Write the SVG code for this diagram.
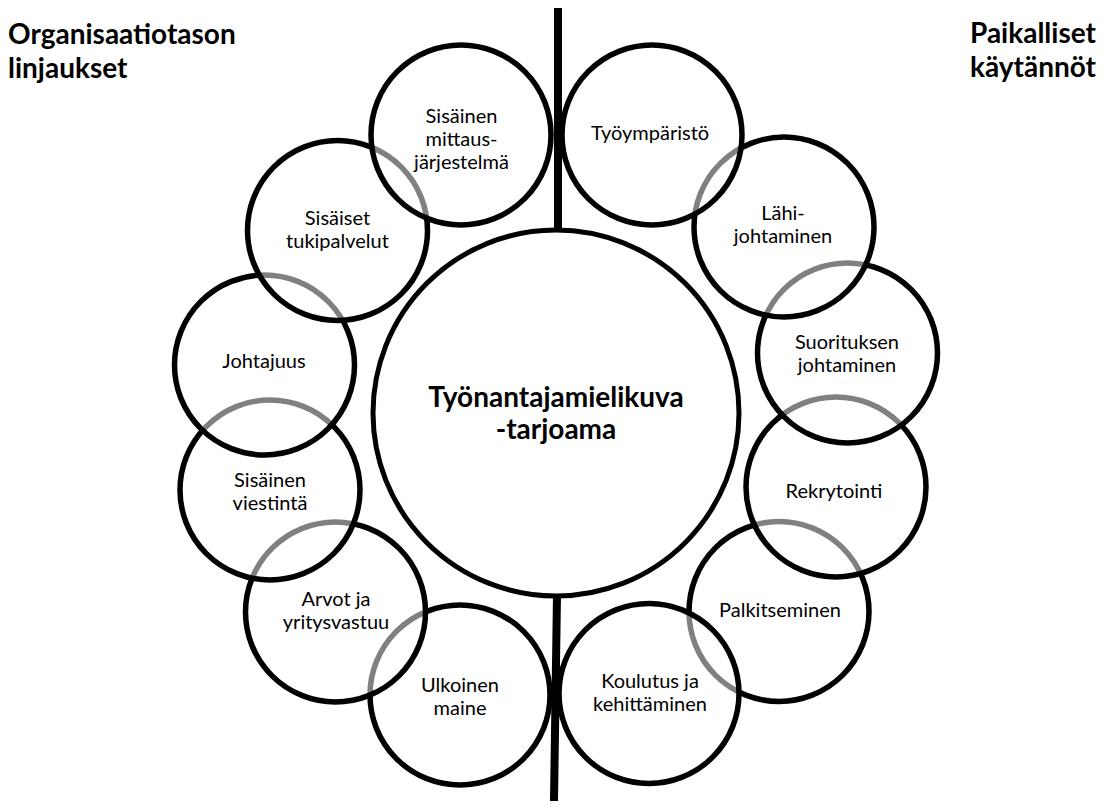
<svg xmlns="http://www.w3.org/2000/svg" width="1110" height="809" viewBox="0 0 1110 809">
  <style>
    .bubble { fill: #ffffff; fill-opacity: 0.5; stroke: #000000; stroke-width: 5.5; }
    .hub { fill: #ffffff; stroke: #000000; stroke-width: 5; }
    .label { font-family: Lato, "Open Sans", "Liberation Sans", sans-serif; font-size: 20px; fill: #000000; text-anchor: middle; }
    .hub-label { font-family: Lato, "Open Sans", "Liberation Sans", sans-serif; font-size: 28px; font-weight: bold; fill: #000000; text-anchor: middle; }
    .heading { font-family: Lato, "Open Sans", "Liberation Sans", sans-serif; font-size: 28px; font-weight: bold; fill: #000000; }
    .divider { stroke: #000000; stroke-width: 8; fill: none; }
  </style>
  <rect width="1110" height="809" fill="#ffffff"/>

  <!-- side headings -->
  <g id="heading-left">
    <text class="heading" x="8" y="44">Organisaatiotason</text>
    <text class="heading" x="8" y="78">linjaukset</text>
  </g>
  <g id="heading-right">
    <text class="heading" x="970" y="43">Paikalliset</text>
    <text class="heading" x="970" y="77">käytännöt</text>
  </g>

  <!-- dividing line between the two sides -->
  <g id="connectors">
    <line class="divider" x1="558" y1="8" x2="558" y2="232"/>
    <line class="divider" x1="557" y1="595" x2="554" y2="801"/>
  </g>

  <!-- central hub -->
  <g id="hub">
    <circle class="hub" cx="556" cy="413" r="183"/>
    <text class="hub-label" x="556" y="407">Työnantajamielikuva</text>
    <text class="hub-label" x="556" y="439">-tarjoama</text>
  </g>

  <!-- left chain, bottom to top -->
  <g id="ulkoinen-maine">
    <circle class="bubble" cx="460" cy="695" r="90"/>
    <text class="label" x="460" y="692">Ulkoinen</text>
    <text class="label" x="460" y="715">maine</text>
  </g>
  <g id="arvot">
    <circle class="bubble" cx="335.5" cy="612" r="90"/>
    <text class="label" x="336" y="606">Arvot ja</text>
    <text class="label" x="336" y="629">yritysvastuu</text>
  </g>
  <g id="viestinta">
    <circle class="bubble" cx="270" cy="490" r="90"/>
    <text class="label" x="270" y="487">Sisäinen</text>
    <text class="label" x="270" y="510">viestintä</text>
  </g>
  <g id="johtajuus">
    <circle class="bubble" cx="264.5" cy="365" r="90"/>
    <text class="label" x="264" y="368">Johtajuus</text>
  </g>
  <g id="tukipalvelut">
    <circle class="bubble" cx="337.5" cy="230.5" r="90"/>
    <text class="label" x="337.5" y="225">Sisäiset</text>
    <text class="label" x="337.5" y="248">tukipalvelut</text>
  </g>
  <g id="mittausjarjestelma">
    <circle class="bubble" cx="461" cy="135" r="90"/>
    <text class="label" x="461.5" y="122.5">Sisäinen</text>
    <text class="label" x="461.5" y="145.5">mittaus-</text>
    <text class="label" x="461.5" y="168.5">järjestelmä</text>
  </g>

  <!-- right chain, bottom to top -->
  <g id="palkitseminen">
    <circle class="bubble" cx="779" cy="611.5" r="90"/>
    <text class="label" x="780" y="617">Palkitseminen</text>
  </g>
  <g id="koulutus">
    <circle class="bubble" cx="649" cy="693.5" r="90"/>
    <text class="label" x="650" y="688">Koulutus ja</text>
    <text class="label" x="650" y="711">kehittäminen</text>
  </g>
  <g id="rekrytointi">
    <circle class="bubble" cx="836" cy="487" r="90"/>
    <text class="label" x="834" y="498">Rekrytointi</text>
  </g>
  <g id="suoritus">
    <circle class="bubble" cx="847.5" cy="353" r="90"/>
    <text class="label" x="847" y="349">Suorituksen</text>
    <text class="label" x="847" y="372">johtaminen</text>
  </g>
  <g id="lahijohtaminen">
    <circle class="bubble" cx="784" cy="227" r="90"/>
    <text class="label" x="783" y="220">Lähi-</text>
    <text class="label" x="783" y="243">johtaminen</text>
  </g>
  <g id="tyoymparisto">
    <circle class="bubble" cx="652" cy="135" r="90"/>
    <text class="label" x="650" y="140">Työympäristö</text>
  </g>
</svg>
